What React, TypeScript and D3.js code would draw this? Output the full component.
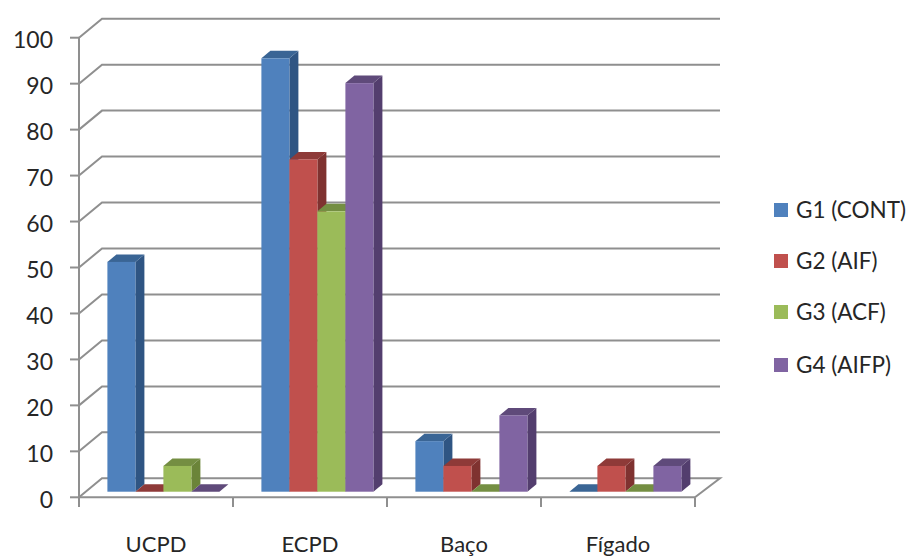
import React from "react";
import * as d3 from "d3";

const categories = ["UCPD", "ECPD", "Baço", "Fígado"];
const seriesNames = ["G1 (CONT)", "G2 (AIF)", "G3 (ACF)", "G4 (AIFP)"];
const g1Values = [50, 94.3, 11, 0];
const g2Values = [0, 72.3, 5.6, 5.6];
const g3Values = [5.6, 61, 0, 0];
const g4Values = [0, 88.9, 16.6, 5.6];
const seriesValues = [g1Values, g2Values, g3Values, g4Values];
const yTicks = [0, 10, 20, 30, 40, 50, 60, 70, 80, 90, 100];

const frontColors = ["#4F81BD", "#C0504D", "#9BBB59", "#8064A2"];
const topColors = ["#3A6595", "#8E3A38", "#748E42", "#5F4A7A"];
const sideColors = ["#2F5583", "#7F3230", "#6B8439", "#533E6E"];

const WIDTH = 909;
const HEIGHT = 557;
const GRID = "#8f8f8f";
const FONT = "Lato, Carlito, 'Open Sans', sans-serif";
const TEXT = "#262626";

// Front plane of the 3D box
const left = 79;
const right = 695;
const yTop = 37.7;
const yBottom = 497.3;
const wallDx = 23;
const wallDy = -19;
const wallRight = 720;

// Bars stand a little inside the floor, with a small extrusion of their own
const barInsetY = -5.6;
const depthX = 9;
const depthY = -7.5;

const x = d3.scaleBand<string>().domain(categories).range([left, right]);
const y = d3.scaleLinear().domain([0, 100]).range([yBottom, yTop]);
const barX = d3
  .scaleBand<number>()
  .domain(d3.range(seriesNames.length))
  .range([0, 112]);
const groupOffset = 28.4;

const poly = d3.line();

// Vertical centre of each legend row
const legendRows = [210, 261, 312, 365];

export default function App() {
  return (
    <svg
      width={WIDTH}
      height={HEIGHT}
      style={{ position: "absolute", left: 0, top: 0, background: "#fff" }}
      fontFamily={FONT}
    >
      {/* Back wall gridlines and their diagonals along the side wall */}
      {yTicks.map((t) => (
        <g key={t} fill="none" stroke={GRID} strokeWidth={2}>
          {t > 0 && (
            <path
              d={
                poly([
                  [left, y(t)],
                  [left + wallDx, y(t) + wallDy],
                  [wallRight, y(t) + wallDy],
                ]) ?? ""
              }
            />
          )}
          <line x1={70} x2={left} y1={y(t)} y2={y(t)} />
        </g>
      ))}

      {/* Floor */}
      <path
        d={
          poly([
            [left, yBottom],
            [left + wallDx, yBottom + wallDy],
            [wallRight, yBottom + wallDy],
            [right, yBottom],
          ]) ?? ""
        }
        fill="none"
        stroke={GRID}
        strokeWidth={2}
      />

      {/* Value axis and category axis */}
      <line x1={left} x2={left} y1={yTop} y2={yBottom} stroke={GRID} strokeWidth={2} />
      <line x1={left} x2={right} y1={yBottom} y2={yBottom} stroke={GRID} strokeWidth={2} />
      {[...categories.map((c) => x(c) as number), right].map((px) => (
        <line key={px} x1={px} x2={px} y1={yBottom} y2={507} stroke={GRID} strokeWidth={2} />
      ))}

      {/* Extruded bars, painted left to right so each covers its neighbour's side face */}
      {categories.map((c, ci) => (
        <g key={c}>
          {seriesValues.map((vals, si) => {
            const x0 = (x(c) as number) + groupOffset + (barX(si) as number);
            const x1 = x0 + barX.bandwidth();
            const yBase = y(0) + barInsetY;
            const yVal = y(vals[ci]) + barInsetY;
            return (
              <g key={si}>
                <path
                  d={
                    poly([
                      [x1, yVal],
                      [x1 + depthX, yVal + depthY],
                      [x1 + depthX, yBase + depthY],
                      [x1, yBase],
                    ]) + "Z"
                  }
                  fill={sideColors[si]}
                />
                <path
                  d={
                    poly([
                      [x0, yVal],
                      [x0 + depthX, yVal + depthY],
                      [x1 + depthX, yVal + depthY],
                      [x1, yVal],
                    ]) + "Z"
                  }
                  fill={topColors[si]}
                />
                <rect x={x0} y={yVal} width={x1 - x0} height={yBase - yVal} fill={frontColors[si]} />
              </g>
            );
          })}
        </g>
      ))}

      {/* Value labels */}
      {yTicks.map((t) => (
        <text key={t} x={53} y={y(t) + 10.5} textAnchor="end" fontSize={23} fill={TEXT}>
          {t}
        </text>
      ))}

      {/* Category labels */}
      {categories.map((c) => (
        <text
          key={c}
          x={(x(c) as number) + x.bandwidth() / 2}
          y={552}
          textAnchor="middle"
          fontSize={22}
          fill={TEXT}
        >
          {c}
        </text>
      ))}

      {/* Legend */}
      {seriesNames.map((name, i) => (
        <g key={name}>
          <rect x={774} y={legendRows[i] - 7} width={14} height={14} fill={frontColors[i]} />
          <text x={796} y={legendRows[i] + 8} fontSize={22.5} fill={TEXT}>
            {name}
          </text>
        </g>
      ))}
    </svg>
  );
}
